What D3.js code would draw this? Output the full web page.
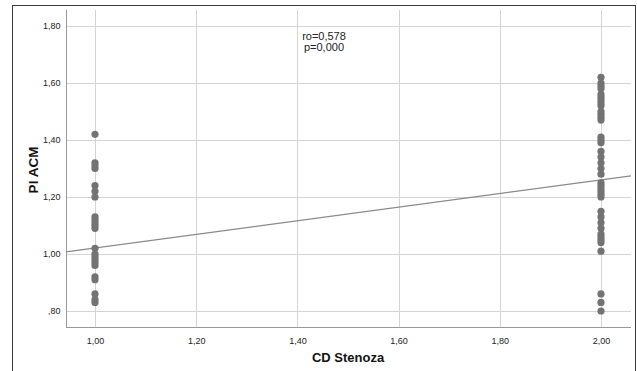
<!DOCTYPE html>
<html><head><meta charset="utf-8">
<script src="https://cdn.jsdelivr.net/npm/d3@7"></script>
<style>body{margin:0;background:#fff}svg{display:block}text{font-family:"Liberation Sans",Arial,sans-serif}</style>
</head><body><svg id="c" width="637" height="371"></svg>
<script>
// Data
const xTicks = [1.0, 1.2, 1.4, 1.6, 1.8, 2.0];
const yTicks = [0.8, 1.0, 1.2, 1.4, 1.6, 1.8];
const group1Values = [1.42, 1.32, 1.31, 1.30, 1.24, 1.22, 1.20, 1.13, 1.12, 1.11, 1.10, 1.09,
  1.02, 1.00, 0.99, 0.98, 0.97, 0.96, 0.92, 0.91, 0.86, 0.84, 0.83];
const group2Values = [1.62, 1.60, 1.59, 1.58, 1.56, 1.55, 1.54, 1.53, 1.52, 1.50, 1.49, 1.48, 1.47,
  1.41, 1.40, 1.39, 1.36, 1.34, 1.32, 1.30, 1.28, 1.25, 1.24, 1.23, 1.22, 1.21, 1.20,
  1.15, 1.13, 1.11, 1.09, 1.07, 1.06, 1.05, 1.04, 1.01, 0.86, 0.83, 0.80];
const fitIntercept = 0.782, fitSlope = 0.239;
const annotation = ["ro=0,578", "p=0,000"];
const xTitle = "CD Stenoza", yTitle = "PI ACM";

const fmt = v => { const s = d3.format(".2f")(v).replace(".", ","); return s.startsWith("0") ? s.slice(1) : s; };

const svg = d3.select("#c");
const L = 66, R = 631, T = 10, B = 327;
const x = d3.scaleLinear().domain([0.9427, 2.0593]).range([L, R]);
const y = d3.scaleLinear().domain([0.7439, 1.8561]).range([B, T]);

// outer frame
svg.append("rect").attr("x", 12.5).attr("y", 5.5).attr("width", 623).attr("height", 380)
  .attr("fill", "none").attr("stroke", "#3a3a3a").attr("stroke-width", 1);

// grid
svg.append("g").selectAll("line").data(yTicks).join("line")
  .attr("x1", L).attr("x2", R).attr("y1", d => Math.round(y(d)) + 0.5).attr("y2", d => Math.round(y(d)) + 0.5)
  .attr("stroke", "#d4d4d4");
svg.append("g").selectAll("line").data(xTicks).join("line")
  .attr("y1", T).attr("y2", B).attr("x1", d => Math.round(x(d)) + 0.5).attr("x2", d => Math.round(x(d)) + 0.5)
  .attr("stroke", "#d4d4d4");

// axes
const yAxis = svg.append("g").attr("transform", `translate(${L + 0.5},0)`)
  .call(d3.axisLeft(y).tickValues(yTicks).tickFormat(fmt).tickSize(0).tickPadding(6));
const xAxis = svg.append("g").attr("transform", `translate(0,${B + 0.5})`)
  .call(d3.axisBottom(x).tickValues(xTicks).tickFormat(fmt).tickSize(0).tickPadding(10));
[yAxis, xAxis].forEach(g => {
  g.select(".domain").attr("stroke", "#999");
  g.selectAll("text").attr("fill", "#222").style("font-size", "9px").style("font-family", '"Liberation Sans",Arial,sans-serif');
});
yAxis.select(".domain").attr("d", `M0,${T}V${B}`);
xAxis.select(".domain").attr("d", `M${L},0H${R}`);

// fit line
const x0 = x.domain()[0], x1 = x.domain()[1];
svg.append("line").attr("x1", x(x0)).attr("y1", y(fitIntercept + fitSlope * x0))
  .attr("x2", x(x1)).attr("y2", y(fitIntercept + fitSlope * x1))
  .attr("stroke", "#8a8a8a").attr("stroke-width", 1.2);

// points
const pts = group1Values.map(v => [1, v]).concat(group2Values.map(v => [2, v]));
svg.append("g").selectAll("circle").data(pts).join("circle")
  .attr("cx", d => x(d[0])).attr("cy", d => y(d[1])).attr("r", 3.6).attr("fill", "#737373");

// annotation
svg.append("g").selectAll("text").data(annotation).join("text")
  .attr("x", 324).attr("y", (d, i) => 40 + i * 11).attr("text-anchor", "middle")
  .style("font-size", "11px").attr("fill", "#222").text(d => d);

// titles
svg.append("text").attr("x", 348).attr("y", 362).attr("text-anchor", "middle")
  .style("font-size", "13px").style("font-weight", "bold").attr("fill", "#111").text(xTitle);
svg.append("text").attr("transform", "translate(38,170) rotate(-90)").attr("text-anchor", "middle")
  .style("font-size", "13.5px").style("font-weight", "bold").attr("fill", "#111").text(yTitle);
</script></body></html>
